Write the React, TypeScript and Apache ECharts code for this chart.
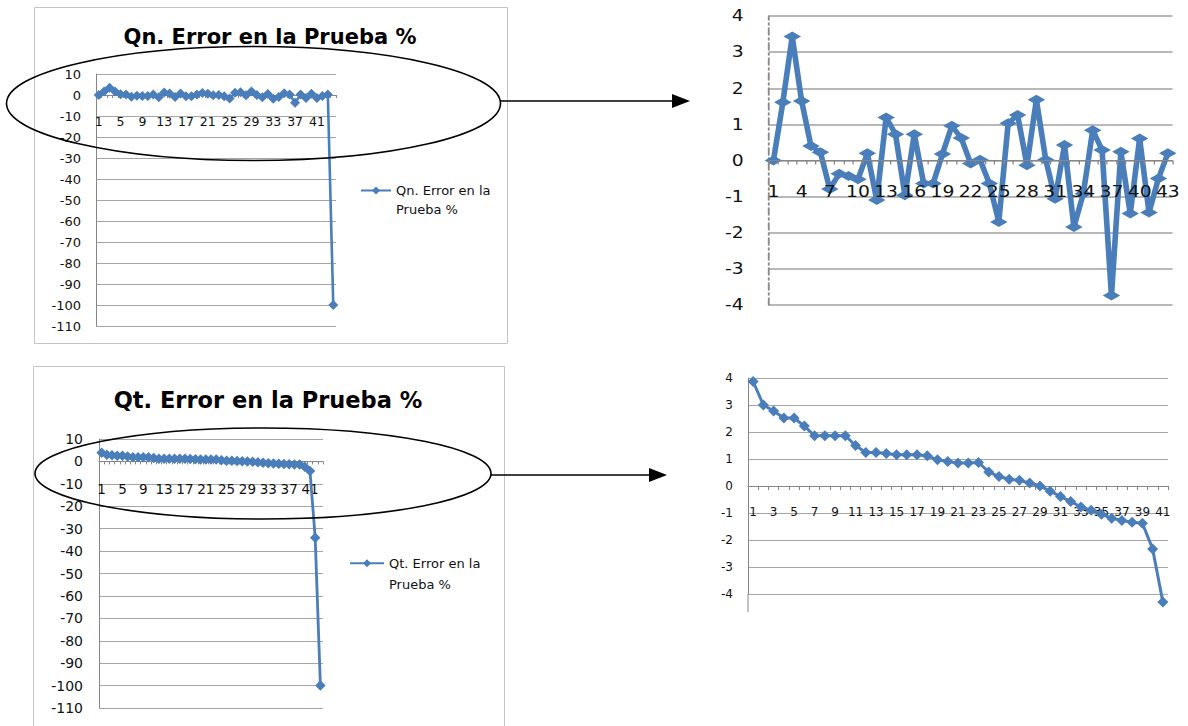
import React, { useEffect, useRef } from "react";
import * as echarts from "echarts";

// Series names
const QN_NAME = "Qn. Error en la Prueba %";
const QT_NAME = "Qt. Error en la Prueba %";

// Qn. test error (%) per test case
const qnErrors = [
  0, 1.61, 3.43, 1.65, 0.4, 0.23, -0.79, -0.37, -0.43, -0.52, 0.2, -1.09, 1.19, 0.73, -0.96, 0.73,
  -0.64, -0.64, 0.18, 0.96, 0.62, -0.08, 0.02, -0.64, -1.7, 1.03, 1.26, -0.13, 1.68, 0.02, -1.06,
  0.43, -1.84, -0.92, 0.84, 0.29, -3.74, 0.24, -1.47, 0.61, -1.44, -0.5, 0.2,
];
const qnTail = [-100];

// Qt. test error (%) per test case
const qtErrors = [
  3.87, 3.0, 2.78, 2.52, 2.52, 2.22, 1.86, 1.86, 1.86, 1.86, 1.5, 1.24, 1.24, 1.2, 1.16, 1.16, 1.16,
  1.12, 0.97, 0.91, 0.85, 0.85, 0.87, 0.52, 0.35, 0.25, 0.21, 0.11, 0.0, -0.19, -0.39, -0.57, -0.78,
  -0.9, -1.05, -1.19, -1.28, -1.34, -1.38, -2.33, -4.3,
];
const qtTail = [-34, -100];

// Value-axis ranges
const fullRange = { min: -110, max: 10, interval: 10 };
const zoomRange = { min: -4, max: 4, interval: 1 };

const qnFull = [...qnErrors, ...qnTail];
const qtFull = [...qtErrors, ...qtTail];
const caseLabels = (n: number) => Array.from({ length: n }, (_, i) => String(i + 1));

type Range = { min: number; max: number; interval: number };

const FONT = "DejaVu Sans";
const BLUE = "#4A7EBB";
const AXIS_GRAY = "#868686";
const GRID_GRAY = "#a6a6a6";
const TEXT = "#111";

// Category axis drawn across the value axis' zero line (labels included)
function catAxis(
  gridIndex: number,
  n: number,
  every: number,
  margin: number,
  fontSize: number,
  tickLen: number,
  gridHeight: number,
  range: Range,
  z = 0
) {
  const zeroOffset = -(gridHeight * (0 - range.min)) / (range.max - range.min);
  return {
    gridIndex,
    type: "category",
    data: caseLabels(n),
    boundaryGap: true,
    position: "bottom",
    offset: zeroOffset,
    z,
    axisLine: { onZero: false, lineStyle: { color: AXIS_GRAY, width: 1 } },
    axisTick: { show: true, interval: 0, length: tickLen, lineStyle: { color: AXIS_GRAY } },
    axisLabel: { interval: every - 1, margin, fontSize, fontFamily: FONT, color: TEXT },
    splitLine: { show: false },
  };
}

function valAxis(gridIndex: number, range: Range, margin: number, fontSize: number, extra: any = {}) {
  return {
    gridIndex,
    type: "value",
    min: range.min,
    max: range.max,
    interval: range.interval,
    axisLine: { show: true, lineStyle: { color: AXIS_GRAY, width: 1 } },
    axisTick: { show: false },
    splitLine: { show: true, lineStyle: { color: GRID_GRAY, width: 1 } },
    axisLabel: { margin, fontSize, fontFamily: FONT, color: TEXT },
    ...extra,
  };
}

function lineSeries(name: string, idx: number, data: number[], symbolSize: any, width: number) {
  return {
    type: "line",
    name,
    xAxisIndex: idx,
    yAxisIndex: idx,
    data,
    symbol: "diamond",
    symbolSize,
    showSymbol: true,
    showAllSymbol: true,
    clip: false,
    lineStyle: { color: BLUE, width, join: "round" },
    itemStyle: { color: BLUE },
    emphasis: { disabled: true },
  };
}

function legendFor(name: string, left: number, top: number, itemWidth: number, lineHeight: number) {
  return {
    data: [name],
    left,
    top,
    padding: 0,
    itemWidth,
    itemHeight: 10,
    selectedMode: false,
    // leading blank line keeps the first text line level with the icon
    formatter: (n: string) => "\n" + n.replace(" Prueba", "\nPrueba"),
    textStyle: {
      fontFamily: FONT,
      fontSize: 13,
      color: TEXT,
      lineHeight,
    },
  };
}

const titleText = (text: string, x: number, y: number, size: number) => ({
  type: "text",
  x,
  y,
  z: 50,
  silent: true,
  style: {
    text,
    fontFamily: FONT,
    fontWeight: "bold",
    fontSize: size,
    fill: "#000",
    align: "center",
    verticalAlign: "middle",
    textAlign: "center",
    textVerticalAlign: "middle",
  },
});

const outline = { fill: "transparent", stroke: "#000", lineWidth: 1.6 };

const grids = [
  { left: 96, top: 74, width: 240, height: 252 },
  { left: 99, top: 439, width: 224, height: 269 },
  { left: 748, top: 378, width: 420, height: 216 },
];

const mainOption: any = {
  animation: false,
  backgroundColor: "#fff",
  grid: grids,
  xAxis: [
    catAxis(0, qnFull.length, 4, 20, 12.5, 3, grids[0].height, fullRange),
    catAxis(1, qtFull.length, 4, 21, 13.5, 3, grids[1].height, fullRange),
    catAxis(2, qtErrors.length, 2, 20, 12, 4, grids[2].height, zoomRange),
  ],
  yAxis: [
    valAxis(0, fullRange, 15, 13),
    valAxis(1, fullRange, 16, 14),
    valAxis(2, zoomRange, 15, 12),
  ],
  legend: [legendFor(QN_NAME, 360, 162, 30, 19), legendFor(QT_NAME, 349, 531, 34, 21.5)],
  series: [
    lineSeries(QN_NAME, 0, qnFull, 10, 2.6),
    lineSeries(QT_NAME, 1, qtFull, 10.5, 2.8),
    lineSeries(QT_NAME, 2, qtErrors, 11, 3),
  ],
  graphic: [
    // chart frames
    { type: "rect", z: 0, silent: true, shape: { x: 34.5, y: 7.5, width: 473, height: 336 }, style: { fill: "transparent", stroke: "#c4c4c4", lineWidth: 1 } },
    { type: "rect", z: 0, silent: true, shape: { x: 33.5, y: 366.5, width: 471, height: 400 }, style: { fill: "transparent", stroke: "#c4c4c4", lineWidth: 1 } },
    titleText(QN_NAME, 270, 37, 21),
    titleText(QT_NAME, 268, 400, 22.5),
    // value axis continues below the last gridline
    { type: "line", z: 5, silent: true, shape: { x1: 748, y1: 594, x2: 748, y2: 612 }, style: { stroke: AXIS_GRAY, lineWidth: 1 } },
    // highlight rings and arrows
    { type: "ellipse", z: 60, silent: true, shape: { cx: 253.5, cy: 103.5, rx: 247, ry: 57 }, style: outline },
    { type: "line", z: 60, silent: true, shape: { x1: 500, y1: 101, x2: 674, y2: 101 }, style: { stroke: "#000", lineWidth: 1.6 } },
    { type: "polygon", z: 60, silent: true, shape: { points: [[690, 101], [672, 94], [672, 108]] }, style: { fill: "#000" } },
    { type: "ellipse", z: 60, silent: true, shape: { cx: 263, cy: 473.5, rx: 228, ry: 45.5 }, style: outline },
    { type: "line", z: 60, silent: true, shape: { x1: 491, y1: 475, x2: 651, y2: 475 }, style: { stroke: "#000", lineWidth: 1.6 } },
    { type: "polygon", z: 60, silent: true, shape: { points: [[667, 475], [649, 468], [649, 482]] }, style: { fill: "#000" } },
  ],
};

const zoomGrid = { left: 55, right: 12, top: 16, bottom: 15 };
const zoomHeight = 320 - zoomGrid.top - zoomGrid.bottom;

const zoomOption: any = {
  animation: false,
  grid: zoomGrid,
  // case labels sit above the line so crossings stay readable
  xAxis: catAxis(0, qnErrors.length, 3, 24, 15, 4, zoomHeight, zoomRange, 5),
  yAxis: valAxis(0, zoomRange, 20, 15, {
    axisLine: { show: true, lineStyle: { color: "#8a8a8a", width: 1.5, type: [7, 3, 2, 3] } },
    splitLine: { show: true, lineStyle: { color: "#a0a0a0", width: 1.6 } },
  }),
  series: [lineSeries(QN_NAME, 0, qnErrors, [14, 10], 4.5)],
};

export default function App() {
  const mainRef = useRef<HTMLDivElement>(null);
  const zoomRef = useRef<HTMLDivElement>(null);

  useEffect(() => {
    const main = echarts.init(mainRef.current!, null, { renderer: "svg" });
    main.setOption(mainOption);
    const zoom = echarts.init(zoomRef.current!, null, { renderer: "svg" });
    zoom.setOption(zoomOption);
    return () => {
      main.dispose();
      zoom.dispose();
    };
  }, []);

  return (
    <div style={{ position: "absolute", left: 0, top: 0, width: 1188, height: 726, background: "#fff", overflow: "hidden" }}>
      <div ref={mainRef} style={{ position: "absolute", left: 0, top: 0, width: 1188, height: 726 }} />
      <div
        ref={zoomRef}
        style={{
          position: "absolute",
          left: 700,
          top: 0,
          width: 390,
          height: 320,
          transform: "scaleX(1.25)",
          transformOrigin: "0 0",
        }}
      />
    </div>
  );
}
